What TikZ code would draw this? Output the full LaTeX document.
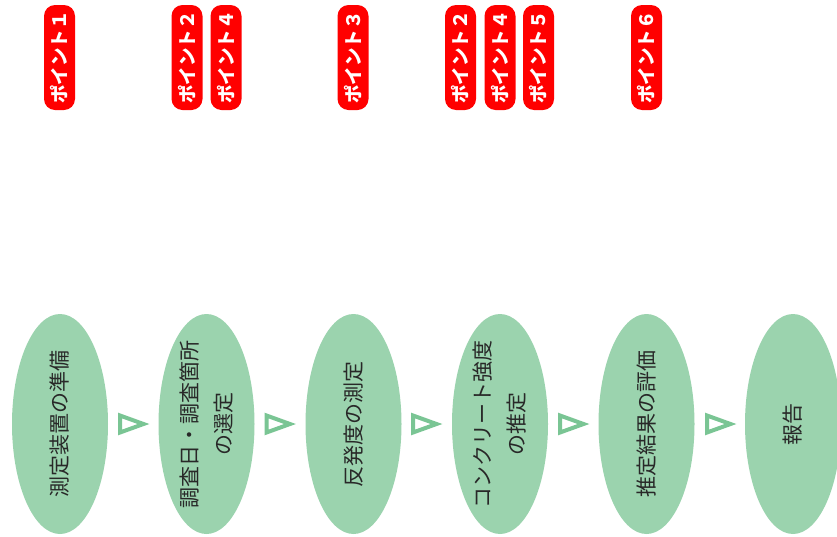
\documentclass[tikz,border=0pt]{standalone}
\usepackage{fontspec}
\setmainfont{Noto Sans CJK JP}
\usetikzlibrary{shapes.geometric}
\definecolor{ellfill}{RGB}{155,211,174}
\definecolor{tricol}{RGB}{122,197,148}
\definecolor{txtcol}{RGB}{40,40,40}
\begin{document}
\begin{tikzpicture}[x=1pt,y=-1pt,
  stage/.style={ellipse, fill=ellfill, draw=none, minimum width=96pt, minimum height=220pt, inner sep=0pt},
  stagetext/.style={rotate=90, font=\fontsize{21}{34}\selectfont, text=txtcol, align=center, inner sep=0pt},
  pointbox/.style={rectangle, rounded corners=11pt, fill=red, text=white,
    font=\bfseries\fontsize{18.5}{18.5}\selectfont, minimum width=105pt, minimum height=31pt,
    rotate=90, inner sep=0pt},
  tri/.style={draw=tricol, line width=4pt, line join=miter}]
\useasboundingbox (0,0) rectangle (837,536);
% stages
\foreach \n/\x in {s1/60, s2/206.5, s3/353.5, s4/500, s5/646.5, s6/793}{
  \node[stage] (\n) at (\x,424) {};
}
\node[stagetext] (l1) at (s1.center) {測定装置の準備};
\node[stagetext] (l2) at (s2.center) {調査日・調査箇所\\の選定};
\node[stagetext] (l3) at (s3.center) {反発度の測定};
\node[stagetext] (l4) at (s4.center) {コンクリート強度\\の推定};
\node[stagetext] (l5) at (s5.center) {推定結果の評価};
\node[stagetext] (l6) at (s6.center) {報告};
% triangles
\foreach \n/\x in {t1/132.5, t2/279, t3/425.5, t4/572.5, t5/719.5}{
  \coordinate (\n) at (\x,424);
  \draw[tri] (\n) ++(-12.5,-8.5) -- ++(23.5,8.5) -- ++(-23.5,8.5) -- cycle;
}
% points
\node[pointbox] (p1) at (59.5,57.5) {ポイント１};
\node[pointbox] (p2a) at (187,57.5) {ポイント２};
\node[pointbox] (p4a) at (226,57.5) {ポイント４};
\node[pointbox] (p3) at (353,57.5) {ポイント３};
\node[pointbox] (p2b) at (460.5,57.5) {ポイント２};
\node[pointbox] (p4b) at (500,57.5) {ポイント４};
\node[pointbox] (p5) at (538.5,57.5) {ポイント５};
\node[pointbox] (p6) at (646.5,57.5) {ポイント６};
\end{tikzpicture}
\end{document}
